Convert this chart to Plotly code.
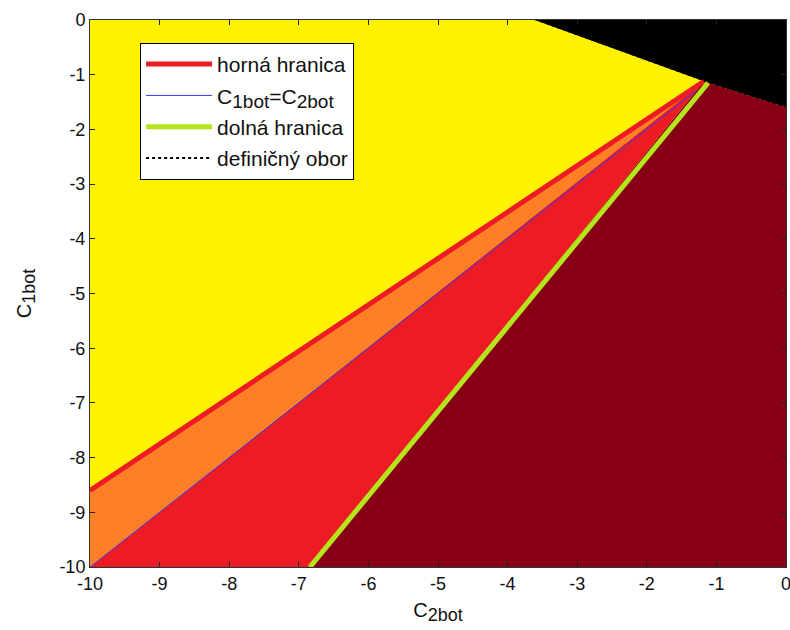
import plotly.graph_objects as go

# boundary lines (C2bot on x, C1bot on y)
upper_x = [-10.0, -1.18]
upper_y = [-8.6, -1.12]
equal_x = [-10.0, -1.3]
equal_y = [-10.0, -1.3]
lower_x = [-6.84, -1.12]
lower_y = [-10.0, -1.15]
domain_x = [-3.61, -1.18, 0.0]
domain_y = [0.0, -1.12, -1.6]
meet = (-1.18, -1.12)
tick_vals = [-10, -9, -8, -7, -6, -5, -4, -3, -2, -1, 0]
tick_text = ["-10", "-9", "-8", "-7", "-6", "-5", "-4", "-3", "-2", "-1", "0"]

C_YELLOW = "#FFF200"
C_ORANGE = "#FF7F27"
C_RED = "#ED1C24"
C_DARK = "#880015"
C_LIME = "#B5E61D"
C_BLUE = "#3A3AF0"
FONT = "Liberation Sans, Arial"

def sub(base, s, size):
    return f"{base}<sub><span style='font-size:{size}px'>{s}</span></sub>"

fig = go.Figure()

# domain boundary (drawn first so regions cover it; appears in legend)
fig.add_trace(go.Scatter(x=domain_x, y=domain_y, mode="lines",
                         line=dict(color="#000000", width=2, dash="dot"),
                         name="definičný obor", legendgroup="d", legendrank=4))

def region(xs, ys, color):
    fig.add_trace(go.Scatter(x=xs, y=ys, fill="toself", fillcolor=color, mode="none",
                             line=dict(width=0), showlegend=False, hoverinfo="skip"))

# yellow region
region([-10, domain_x[0], meet[0], upper_x[0], -10], [0, domain_y[0], meet[1], upper_y[0], 0], C_YELLOW)
# black region (outside domain)
region([domain_x[0], meet[0], domain_x[2], 0, domain_x[0]], [domain_y[0], meet[1], domain_y[2], 0, domain_y[0]], "#000000")
# dark red
region([meet[0], lower_x[0], 0, 0, meet[0]], [meet[1], lower_y[0], -10, domain_y[2], meet[1]], C_DARK)
# red
region([meet[0], -10, lower_x[0], meet[0]], [meet[1], -10, lower_y[0], meet[1]], C_RED)
# orange
region([meet[0], upper_x[0], -10, meet[0]], [meet[1], upper_y[0], -10, meet[1]], C_ORANGE)

fig.add_trace(go.Scatter(x=upper_x, y=upper_y, mode="lines", line=dict(color=C_RED, width=5),
                         name="horná hranica", legendgroup="a", legendrank=1))
fig.add_trace(go.Scatter(x=equal_x, y=equal_y, mode="lines", line=dict(color=C_BLUE, width=1),
                         name="C" + sub("", "1bot", 19) + "=C" + sub("", "2bot", 19),
                         legendgroup="b", legendrank=2))
fig.add_trace(go.Scatter(x=lower_x, y=lower_y, mode="lines", line=dict(color=C_LIME, width=5),
                         name="dolná hranica", legendgroup="c", legendrank=3))

axis_common = dict(range=[-10, 0], tickvals=tick_vals, ticktext=tick_text,
                   ticks="inside", ticklen=5, tickcolor="#222",
                   showline=True, linecolor="#333", linewidth=1, mirror="ticks",
                   showgrid=False, zeroline=False, ticklabeloverflow="allow",
                   automargin=False,
                   tickfont=dict(family=FONT, size=18, color="#111"))

fig.update_layout(
    width=790, height=630,
    margin=dict(l=90, r=4, t=20, b=63),
    paper_bgcolor="white", plot_bgcolor=C_YELLOW,
    font=dict(family=FONT, size=18, color="#111"),
    xaxis=dict(**axis_common, title=dict(text=sub("C", "2bot", 18), standoff=10,
                                         font=dict(size=20))),
    yaxis=dict(**axis_common, title=dict(text=sub("C", "1bot", 18), standoff=22,
                                         font=dict(size=20))),
    legend=dict(x=0.072, y=0.958, xanchor="left", yanchor="top",
                bgcolor="white", bordercolor="#000", borderwidth=1,
                tracegroupgap=1, itemwidth=66,
                font=dict(family=FONT, size=21, color="#111")),
    showlegend=True,
)

fig.write_html("out.html")
